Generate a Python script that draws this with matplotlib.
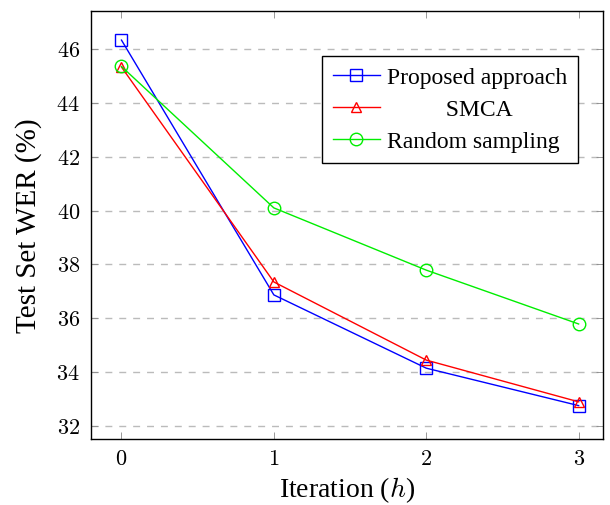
import matplotlib
matplotlib.use("Agg")
import matplotlib.pyplot as plt

plt.rcParams['font.family'] = ['Liberation Serif', 'DejaVu Serif']
plt.rcParams['mathtext.fontset'] = 'cm'

iterations = [0, 1, 2, 3]
proposed = [46.33, 36.87, 34.15, 32.76]
smca = [45.33, 37.35, 34.45, 32.9]
random_sampling = [45.35, 40.1, 37.79, 35.79]
yticks = [32, 34, 36, 38, 40, 42, 44, 46]

fig = plt.figure(figsize=(6.1, 5.06), dpi=100)
ax = fig.add_axes([91 / 610, 66 / 506, 512 / 610, 428 / 506])

ax.plot(iterations, proposed, color='blue', marker='s', markersize=8.5,
        markerfacecolor='none', lw=1, label='Proposed approach')
ax.plot(iterations, smca, color='red', marker='^', markersize=7.5,
        markerfacecolor='none', lw=1, label=' ' * 10 + 'SMCA')
ax.plot(iterations, random_sampling, color='#00ee00', marker='o', markersize=9,
        markerfacecolor='none', lw=1, label='Random sampling')

ax.set_xlim(-0.2, 3.16)
ax.set_ylim(31.52, 47.41)
ax.set_xticks(iterations)
ax.set_xticklabels(['$%d$' % v for v in iterations])
ax.set_yticks(yticks)
ax.set_yticklabels(['$%d$' % v for v in yticks])
ax.tick_params(direction='in', top=True, right=True, labelsize=16, length=5, width=0.6,
               color='#888888', pad=8)
ax.grid(axis='y', color='#bbbbbb', linestyle=(0, (5, 5)), lw=1)
for s in ax.spines.values():
    s.set_linewidth(1)

ax.set_xlabel('Iteration ($h$)', fontsize=20, labelpad=4)
ax.set_ylabel('Test Set WER (%)', fontsize=21, labelpad=10)

leg = ax.legend(loc='upper right', bbox_to_anchor=(0.951, 0.895), fontsize=17,
                fancybox=False, edgecolor='black', framealpha=1,
                handlelength=2.0, handletextpad=0.3, borderpad=0.45, labelspacing=0.45,
                borderaxespad=0)
leg.get_frame().set_linewidth(1)

fig.savefig('out.png')
